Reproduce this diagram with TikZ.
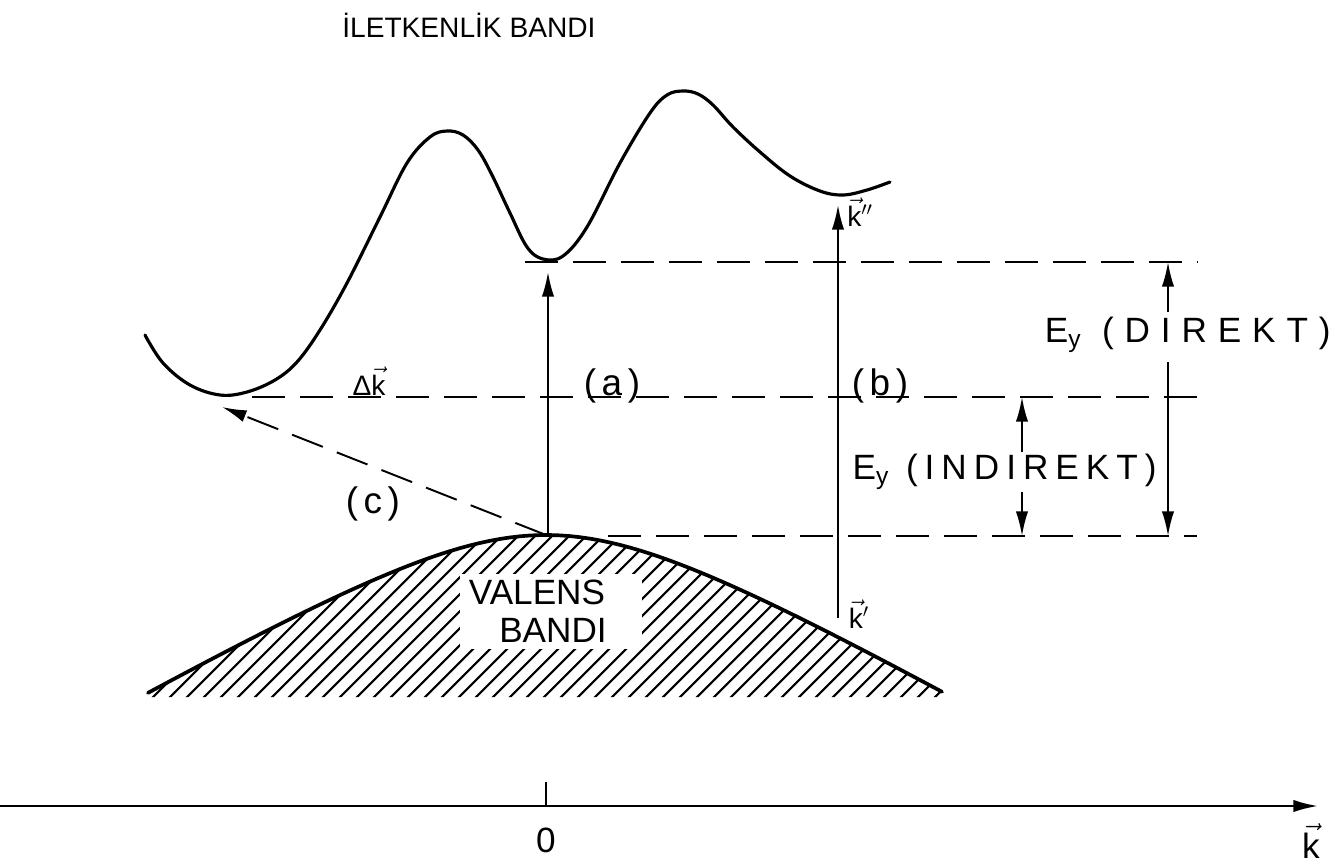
\documentclass[tikz,border=0pt]{standalone}
\usepackage{fontspec}
\setmainfont{Liberation Sans}
\usetikzlibrary{arrows.meta}
\newcommand{\kv}{$\vec{\mbox{k}}$}
\begin{document}
\begin{tikzpicture}[x=0.02cm,y=-0.02cm,
  band/.style={line width=1.8pt, line cap=round, line join=round},
  dash line/.style={line width=1.3pt, dash pattern=on 0.66cm off 0.3cm},
  arr/.style={line width=1.1pt, -{Latex[length=14pt,width=7pt]}},
  lbl/.style={font=\fontsize{20}{24}\selectfont, inner sep=0pt},
  wide/.style={font=\fontsize{21}{24}\selectfont\addfontfeature{LetterSpace=15}, inner sep=0pt},
  elab/.style={font=\fontsize{20}{24}\selectfont\addfontfeature{LetterSpace=31}, inner sep=0pt},
  elabn/.style={font=\fontsize{20}{24}\selectfont\addfontfeature{LetterSpace=20}, inner sep=0pt},
  small/.style={font=\fontsize{16}{18}\selectfont, inner sep=0pt},
]
\useasboundingbox (0,0) rectangle (1343,867);
% hatching of the valence band
\begin{scope}
  \clip plot[domain=148:942, samples=80] (\x, {535+86*(sqrt(1+((\x-546)/150)^2)-1)}) -- (942,697) -- (148,697) -- cycle;
  \foreach \i in {0,...,58} \draw[line width=1.2pt] ({-30+17*\i},710) -- ++(180,-180);
\end{scope}
\fill[white] (460,574) rectangle (642,649);
% valence band edge
\draw[band, line width=2.1pt] plot[domain=148:942, samples=80] (\x, {535+86*(sqrt(1+((\x-546)/150)^2)-1)});
% conduction band
\draw[band] plot[smooth, tension=0.6] coordinates {(145,335) (163,363) (190,385) (220,395) (247,392) (275,380) (297,362) (320,330) (347,283) (380,217) (407,163) (430,137) (447,131) (463,135) (478,150) (492,175) (510,213) (527,247) (543,259) (563,256) (587,227) (620,163) (650,113) (667,95) (683,91) (698,94) (713,105) (733,127) (760,152) (790,176) (820,191) (843,195) (867,190) (890,182)};
% dashed levels
\coordinate (l1a) at (525,262); \coordinate (l1b) at (1197,262);
\coordinate (l2a) at (252,397); \coordinate (l2b) at (1197,397);
\coordinate (l3a) at (608,536); \coordinate (l3b) at (1197,536);
\draw[dash line] (l1a) -- (l1b);
\draw[dash line] (l2a) -- (l2b);
\draw[dash line] (l3a) -- (l3b);
% transitions
\coordinate (vtop) at (548,535); \coordinate (atip) at (548,272);
\coordinate (bbot) at (838,618); \coordinate (btip) at (838,205);
\coordinate (cstart) at (546,535); \coordinate (ctip) at (222,407);
\draw[arr] (vtop) -- (atip);
\draw[arr] (bbot) -- (btip);
\draw[dash line, arr] (cstart) -- (ctip);
% gap dimensions
\coordinate (d1) at (1168,262); \coordinate (d1a) at (1168,312);
\coordinate (d2) at (1168,536); \coordinate (d2a) at (1168,362);
\coordinate (i1) at (1022,397); \coordinate (i1a) at (1022,452);
\coordinate (i2) at (1022,536); \coordinate (i2a) at (1022,492);
\draw[arr] (d1a) -- (d1);
\draw[arr] (d2a) -- (d2);
\draw[arr] (i1a) -- (i1);
\draw[arr] (i2a) -- (i2);
% k axis
\coordinate (ax0) at (0,806); \coordinate (ax1) at (1318,806);
\coordinate (t0) at (546,782); \coordinate (t1) at (546,806);
\draw[line width=1.3pt, -{Latex[length=14pt,width=7pt]}] (ax0) -- (ax1);
\draw[line width=1.3pt] (t0) -- (t1);
% labels
\node[font=\fontsize{16}{19}\selectfont, anchor=west, inner sep=0pt] (title) at (342,25) {İLETKENLİK BANDI};
\node[wide] (la) at (612,386) {(a)};
\node[wide] (lb) at (880,386) {(b)};
\node[wide] (lc) at (373,504) {(c)};
\node[lbl] (val) at (537,592) {VALENS};
\node[lbl] (ban) at (553,630) {BANDI};
\node[small] (dk) at (369,381) {Δ\kv};
\node[small] (kpp) at (860,212) {\kv$''$};
\node[small] (kp) at (859,614) {\kv$'$};
\node[lbl] (zero) at (546,840) {0};
\node[lbl] (kax) at (1311,841) {\kv};
\node[elab, anchor=east] (edir) at (1331,335) {E\textsubscript{y} (DIREKT)};
\node[elabn, anchor=east] (eind) at (1157,472) {E\textsubscript{y} (INDIREKT)};
\end{tikzpicture}
\end{document}
